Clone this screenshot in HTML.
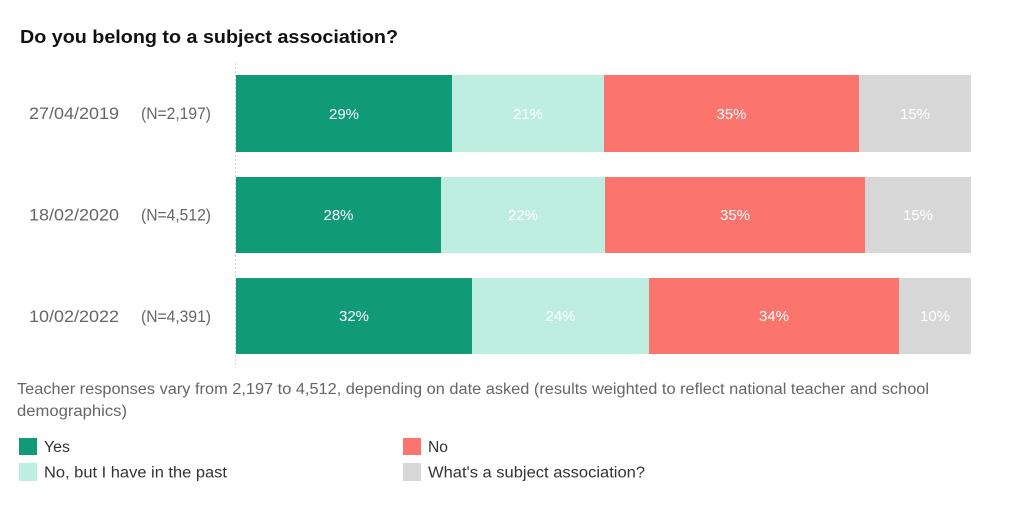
<!DOCTYPE html>
<html><head><meta charset="utf-8"><style>
html,body{margin:0;padding:0;background:#fff;}
svg{display:block;}
text{font-family:"Liberation Sans",sans-serif;}
</style></head><body>
<svg width="1024" height="512" viewBox="0 0 1024 512" xmlns="http://www.w3.org/2000/svg">
<rect width="1024" height="512" fill="#fff"/>
<text x="20" y="43" font-size="18" font-weight="bold" fill="#111" textLength="378" lengthAdjust="spacingAndGlyphs">Do you belong to a subject association?</text>
<line x1="235.5" y1="63" x2="235.5" y2="366" stroke="#cfcfcf" stroke-width="1" stroke-dasharray="2,2"/>
<!-- row 1 -->
<rect x="236" y="75" width="216" height="77" fill="#109a78"/>
<rect x="452" y="75" width="152" height="77" fill="#bdeee0"/>
<rect x="604" y="75" width="255" height="77" fill="#fb746e"/>
<rect x="859" y="75" width="112" height="77" fill="#d7d7d7"/>
<!-- row 2 -->
<rect x="236" y="177" width="205" height="76" fill="#109a78"/>
<rect x="441" y="177" width="164" height="76" fill="#bdeee0"/>
<rect x="605" y="177" width="260" height="76" fill="#fb746e"/>
<rect x="865" y="177" width="106" height="76" fill="#d7d7d7"/>
<!-- row 3 -->
<rect x="236" y="278" width="236" height="76" fill="#109a78"/>
<rect x="472" y="278" width="177" height="76" fill="#bdeee0"/>
<rect x="649" y="278" width="250" height="76" fill="#fb746e"/>
<rect x="899" y="278" width="72" height="76" fill="#d7d7d7"/>
<g fill="#666" font-size="17">
<text x="29" y="119" textLength="90" lengthAdjust="spacingAndGlyphs">27/04/2019</text>
<text x="141" y="119" textLength="70" lengthAdjust="spacingAndGlyphs">(N=2,197)</text>
<text x="29" y="220.5" textLength="90" lengthAdjust="spacingAndGlyphs">18/02/2020</text>
<text x="141" y="220.5" textLength="70" lengthAdjust="spacingAndGlyphs">(N=4,512)</text>
<text x="29" y="322" textLength="90" lengthAdjust="spacingAndGlyphs">10/02/2022</text>
<text x="141" y="322" textLength="70" lengthAdjust="spacingAndGlyphs">(N=4,391)</text>
</g>
<g fill="#fff" font-size="15" text-anchor="middle">
<text x="344" y="119">29%</text>
<text x="528" y="119">21%</text>
<text x="731.5" y="119">35%</text>
<text x="915" y="119">15%</text>
<text x="338.5" y="220">28%</text>
<text x="523" y="220">22%</text>
<text x="735" y="220">35%</text>
<text x="918" y="220">15%</text>
<text x="354" y="321">32%</text>
<text x="560.5" y="321">24%</text>
<text x="774" y="321">34%</text>
<text x="935" y="321">10%</text>
</g>
<g fill="#666" font-size="15.5">
<text x="17" y="394" textLength="912" lengthAdjust="spacingAndGlyphs">Teacher responses vary from 2,197 to 4,512, depending on date asked (results weighted to reflect national teacher and school</text>
<text x="17" y="416" textLength="110" lengthAdjust="spacingAndGlyphs">demographics)</text>
</g>
<rect x="19" y="438" width="18" height="17" fill="#109a78"/>
<rect x="19" y="463" width="18" height="18" fill="#bdeee0"/>
<rect x="403" y="438" width="18" height="17" fill="#fb746e"/>
<rect x="403" y="463" width="18" height="18" fill="#d7d7d7"/>
<g fill="#333" font-size="15.5">
<text x="44" y="452" textLength="26" lengthAdjust="spacingAndGlyphs">Yes</text>
<text x="44" y="477.5" textLength="183" lengthAdjust="spacingAndGlyphs">No, but I have in the past</text>
<text x="428" y="452" textLength="20" lengthAdjust="spacingAndGlyphs">No</text>
<text x="428" y="477.5" textLength="217" lengthAdjust="spacingAndGlyphs">What's a subject association?</text>
</g>
</svg>
</body></html>
